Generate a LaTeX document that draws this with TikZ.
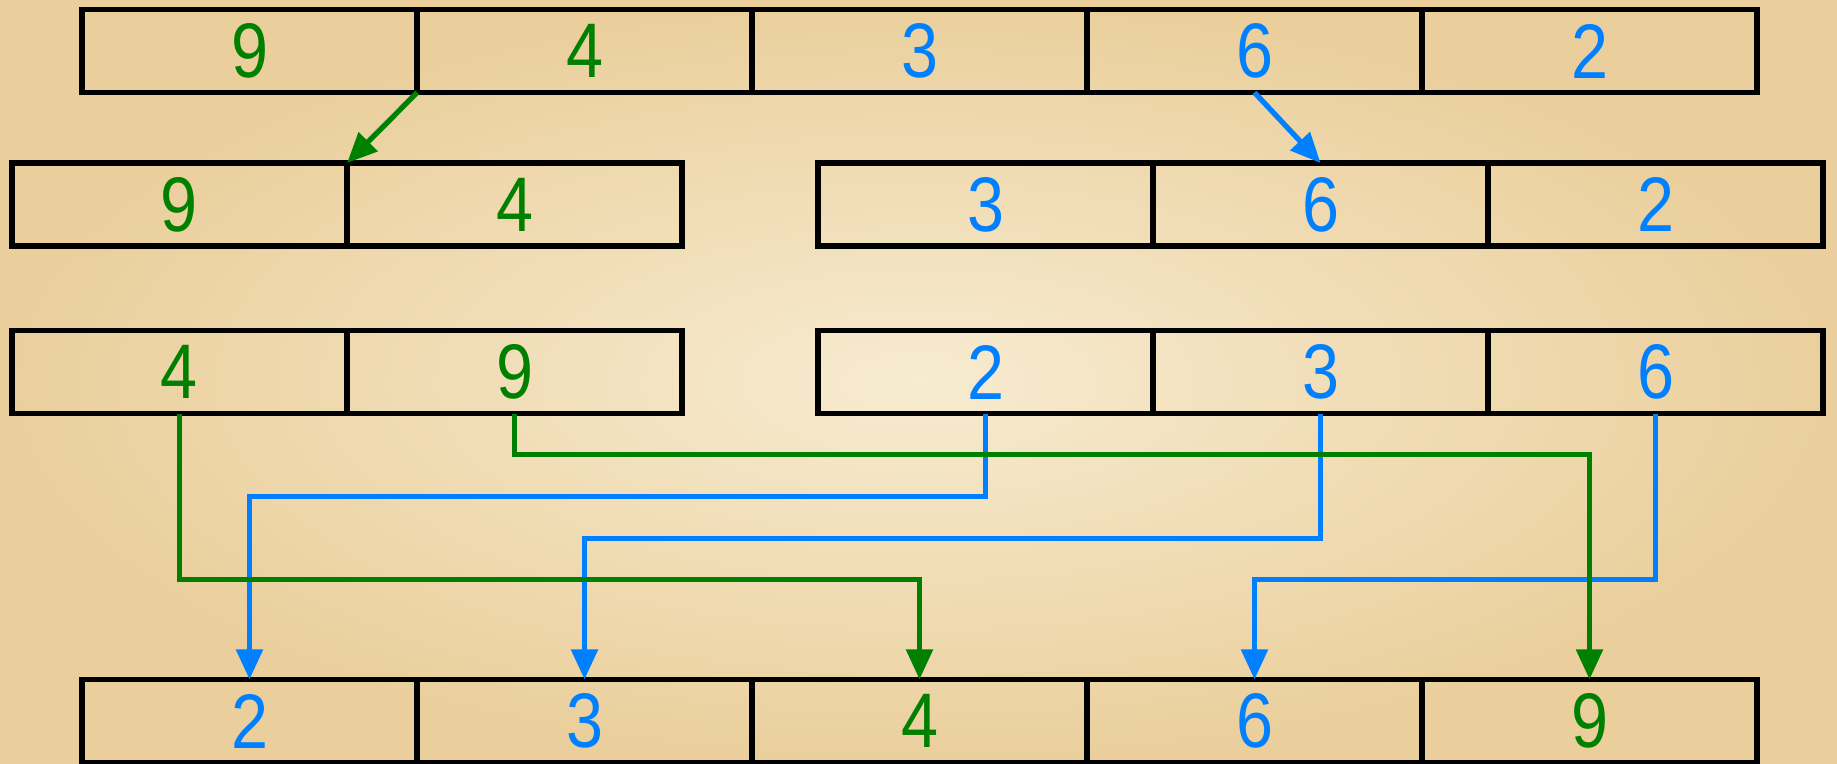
\documentclass[tikz,border=0pt]{standalone}
\usepackage{fontspec}
\setmainfont{Liberation Sans}[FakeStretch=0.86]
\usetikzlibrary{arrows.meta,positioning}
\definecolor{numgreen}{HTML}{008000}
\definecolor{numblue}{HTML}{0080FF}
\definecolor{paper}{HTML}{EACF9C}
\definecolor{paperlight}{HTML}{F7EBD0}

\begin{document}
\begin{tikzpicture}[
    x=0.01cm, y=-0.01cm,
    cell/.style={draw=black, line width=1.6pt,
                 minimum width=3.35cm, minimum height=0.83cm,
                 inner sep=0pt, outer sep=0pt,
                 font=\fontsize{22}{26}\selectfont},
    garr/.style={-{Triangle[width=0.26cm,length=0.3cm]}, line width=1.5pt, numgreen},
    barr/.style={-{Triangle[width=0.26cm,length=0.3cm]}, line width=1.5pt, numblue}
  ]
  % Paper background
  \useasboundingbox (0,0) rectangle (1837,764);
  \shade[inner color=paperlight, outer color=paper] (0,0) rectangle (1837,764);
  % Unsorted input
  \foreach \v/\c [count=\i] in {9/numgreen,4/numgreen,3/numblue,6/numblue,2/numblue}
    \node[cell, text=\c] (t\i) at ({82+335*(\i-0.5)},51) {\v};
  % Split halves
  \foreach \v/\c [count=\i] in {9/numgreen,4/numgreen}
    \node[cell, text=\c] (a\i) at ({12+335*(\i-0.5)},204.5) {\v};
  \foreach \v/\c [count=\i] in {3/numblue,6/numblue,2/numblue}
    \node[cell, text=\c] (b\i) at ({818+335*(\i-0.5)},204.5) {\v};
  % Sorted halves
  \foreach \v/\c [count=\i] in {4/numgreen,9/numgreen}
    \node[cell, text=\c] (c\i) at ({12+335*(\i-0.5)},372) {\v};
  \foreach \v/\c [count=\i] in {2/numblue,3/numblue,6/numblue}
    \node[cell, text=\c] (d\i) at ({818+335*(\i-0.5)},372) {\v};
  % Merged output
  \foreach \v/\c [count=\i] in {2/numblue,3/numblue,4/numgreen,6/numblue,9/numgreen}
    \node[cell, text=\c] (r\i) at ({82+335*(\i-0.5)},721) {\v};
  % Split arrows
  \draw[garr] (t1.south east) -- (a1.north east);
  \draw[barr] (t4.south) -- (b2.north);
  % Merge arrows
  \draw[barr] (d1.south) -- ++(0,83) -| (r1.north);
  \draw[barr] (d2.south) -- ++(0,125) -| (r2.north);
  \draw[garr] (c1.south) -- ++(0,166) -| (r3.north);
  \draw[barr] (d3.south) -- ++(0,166) -| (r4.north);
  \draw[garr] (c2.south) -- ++(0,41) -| (r5.north);
\end{tikzpicture}
\end{document}
